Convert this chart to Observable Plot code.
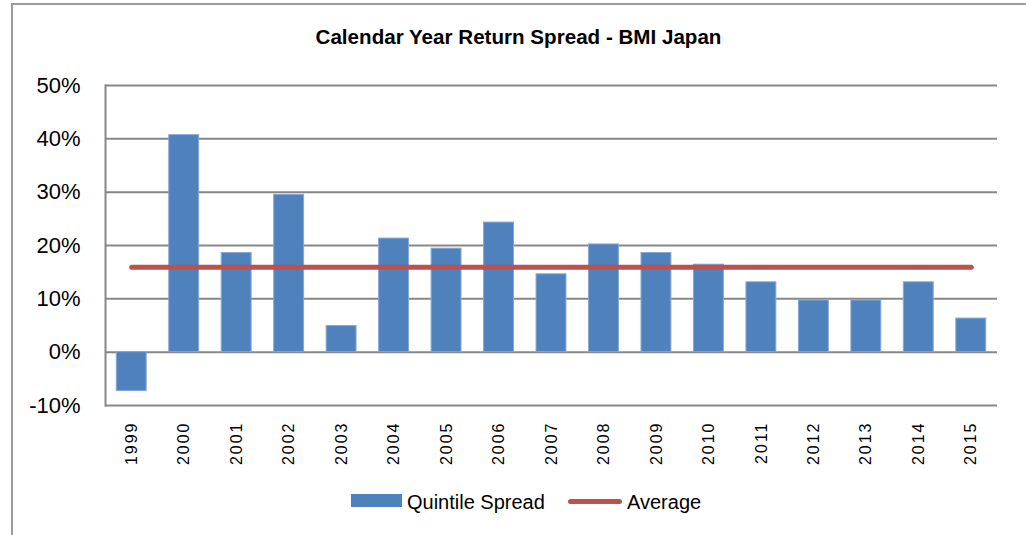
<!DOCTYPE html>
<html>
<head>
<meta charset="utf-8">
<script src="https://cdn.jsdelivr.net/npm/d3@7"></script>
<script src="https://cdn.jsdelivr.net/npm/@observablehq/plot@0.6"></script>
<style>
  html, body { margin: 0; padding: 0; background: #fff; }
  body { width: 1026px; height: 535px; position: relative; overflow: hidden;
         font-family: "Liberation Sans", Arial, sans-serif; color: #000; }
  #frame { position: absolute; left: 11px; top: 3px; width: 1030px; height: 600px;
           border-top: 2px solid #9c9c9c; border-left: 2px solid #9c9c9c; }
  #title { position: absolute; left: 0; width: 1037px; top: 27px; text-align: center;
           font-size: 20.6px; font-weight: bold; line-height: 20px; white-space: nowrap; }
  #chart { position: absolute; left: 0; top: 70px; }
  #legend { position: absolute; left: 0; top: 490px; width: 1026px; height: 24px; font-size: 20px; }
  .sw { position: absolute; }
  .lt { position: absolute; top: 0; line-height: 24px; white-space: nowrap; }
</style>
</head>
<body>
<div id="frame"></div>
<div id="title">Calendar Year Return Spread - BMI Japan</div>
<div id="chart"></div>
<div id="legend">
  <div class="sw" style="left:351px; top:4px; width:51px; height:13px; background:#4F81BD;"></div>
  <div class="lt" style="left:407px;">Quintile Spread</div>
  <div class="sw" style="left:568px; top:9px; width:54px; height:5px; border-radius:3px; background:#C0504D;"></div>
  <div class="lt" style="left:627px;">Average</div>
</div>
<script>
const years = ["1999","2000","2001","2002","2003","2004","2005","2006","2007","2008","2009","2010","2011","2012","2013","2014","2015"];
const spread = [-7.3, 40.7, 18.6, 29.5, 4.9, 21.3, 19.4, 24.3, 14.6, 20.2, 18.6, 16.4, 13.1, 9.7, 9.7, 13.1, 6.3];
const average = 15.9;
const yTicks = [-10, 0, 10, 20, 30, 40, 50];

const data = years.map((year, i) => ({year, spread: spread[i], avg: average}));

const chart = Plot.plot({
  width: 1026,
  height: 410,
  marginTop: 15,
  marginBottom: 75,
  marginLeft: 105,
  marginRight: 29,
  style: {fontFamily: '"Liberation Sans", Arial, sans-serif', background: "transparent", overflow: "visible"},
  x: {type: "band", domain: years, paddingInner: 0.43, paddingOuter: 0.215, align: 0.5, round: false},
  y: {domain: [-10, 50], range: [405 - 70, 85 - 70]},
  marks: [
    Plot.gridY(yTicks, {stroke: "#878787", strokeOpacity: 1, strokeWidth: 2}),
    Plot.frame({anchor: "left", stroke: "#878787", strokeWidth: 2}),
    Plot.barY(data, {x: "year", y: "spread", fill: "#4F81BD", stroke: "#86a8d6", strokeWidth: 1}),
    Plot.lineY(data, {x: "year", y: "avg", stroke: "#C0504D", strokeWidth: 5, strokeLinecap: "round"}),
    Plot.axisY(yTicks, {tickSize: 0, tickPadding: 25, tickFormat: d => `${d}%`, fontSize: 22, label: null}),
    Plot.axisX({tickSize: 0, tickPadding: 16, tickRotate: -90, fontSize: 16, label: null})
  ]
});
chart.querySelectorAll("text").forEach(t => {
  if (/^\d{4}$/.test(t.textContent)) t.style.letterSpacing = "2px";
});
document.getElementById("chart").appendChild(chart);
</script>
</body>
</html>
